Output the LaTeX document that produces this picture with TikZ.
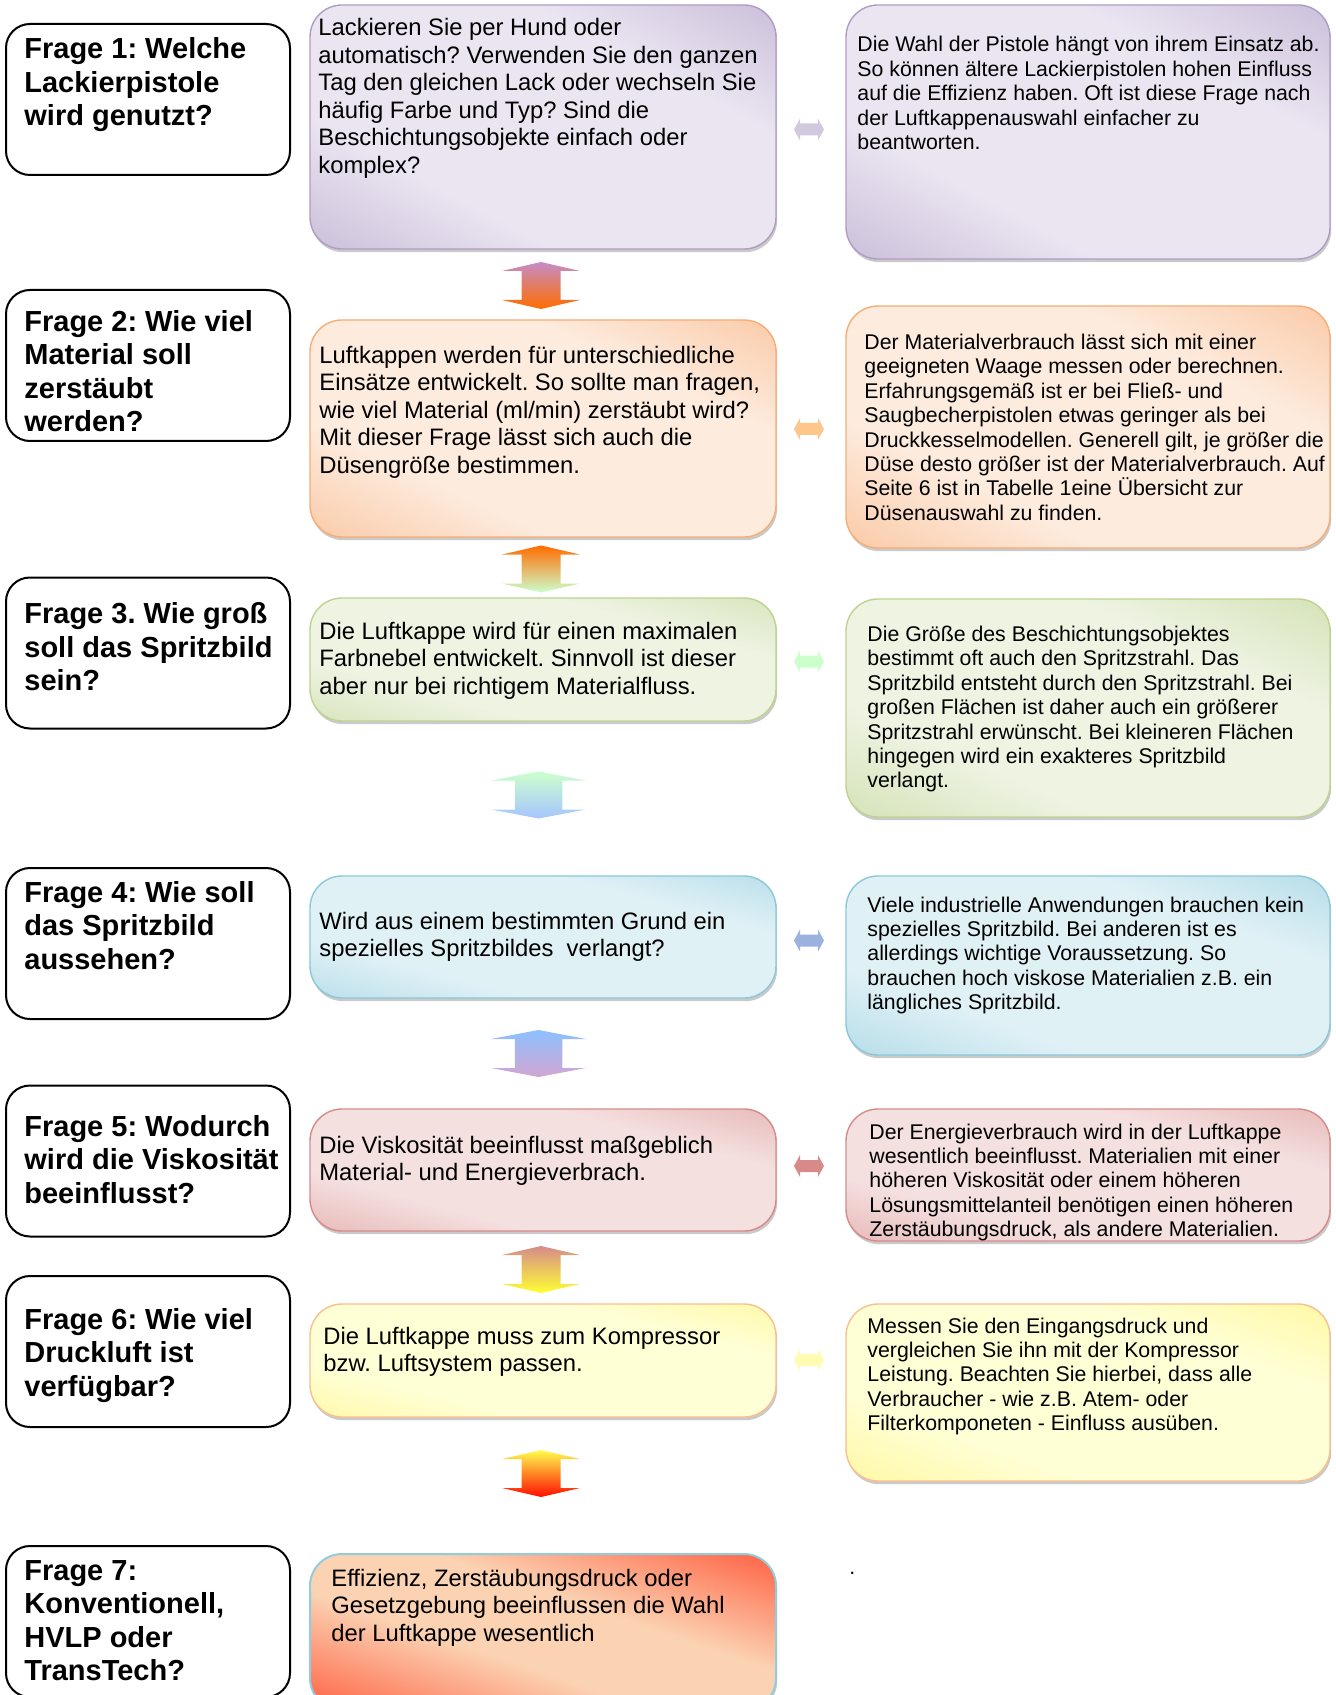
\documentclass[tikz,border=0pt]{standalone}
\usepackage{fontspec}
\setmainfont{Liberation Sans}
\usetikzlibrary{shadows}
\frenchspacing

% Farben der Kaesten
\definecolor{lilaD}{HTML}{AF9DC5}
\definecolor{lilaL}{HTML}{EAE5F1}
\definecolor{orangeD}{HTML}{F8AC76}
\definecolor{orangeL}{HTML}{FDEBDD}
\definecolor{gruenD}{HTML}{BDD38F}
\definecolor{gruenL}{HTML}{EEF3E2}
\definecolor{blauD}{HTML}{8AC8DA}
\definecolor{blauL}{HTML}{E0F1F6}
\definecolor{rotD}{HTML}{D68B8A}
\definecolor{rotL}{HTML}{F4E0DF}
\definecolor{gelbD}{HTML}{FFF170}
\definecolor{gelbL}{HTML}{FFFFD6}
\definecolor{gelbR}{HTML}{F9C08E}
\definecolor{feuerD}{HTML}{FF3A1C}
\definecolor{feuerL}{HTML}{FBD3B3}
\definecolor{feuerR}{HTML}{93CDDD}

\newcommand{\tint}[3]{\pgfdeclarehorizontalshading{#1}{100bp}{color(0bp)=(#2); color(34bp)=(#3); color(66bp)=(#3); color(100bp)=(#2)}}
\tint{lila}{lilaD}{lilaL}
\tint{orange}{orangeD}{orangeL}
\tint{gruen}{gruenD}{gruenL}
\tint{blau}{blauD}{blauL}
\tint{rot}{rotD}{rotL}
\tint{gelb}{gelbD}{gelbL}
\pgfdeclarehorizontalshading{feuer}{100bp}{color(0bp)=(feuerD); color(10bp)=(feuerD); color(42bp)=(feuerL); color(58bp)=(feuerL); color(90bp)=(feuerD); color(100bp)=(feuerD)}

% mehrzeiliger Text, Grundlinie = erste Zeile
\newcommand{\zeilen}[1]{\parbox[t]{330pt}{\raggedright #1}}

\tikzset{
  frage/.style={draw=black, line width=1pt, rounded corners=12pt, fill=white, minimum width=142pt, minimum height=75.5pt},
  kasten/.style 2 args={shade, shading=#1, shading angle=#2, rounded corners=16pt, line width=0.7pt,
    drop shadow={shadow xshift=0.6pt, shadow yshift=-1.6pt, opacity=0.35, fill=black!60}},
  lefttext/.style={anchor=base west, inner sep=0pt, font=\fontsize{14.5}{16.75}\selectfont\bfseries},
  midtext/.style={anchor=base west, inner sep=0pt, font=\fontsize{11.9}{13.75}\selectfont},
  righttext/.style={anchor=base west, inner sep=0pt, font=\fontsize{10.65}{12.2}\selectfont},
  updown/.pic={\path[pic actions] (0,-23.5) -- (#1,-14.5) -- ({#1/2},-14.5) -- ({#1/2},14.5) -- (#1,14.5) -- (0,23.5)
    -- (-#1,14.5) -- ({-#1/2},14.5) -- ({-#1/2},-14.5) -- (-#1,-14.5) -- cycle;},
  leftright/.pic={\path[pic actions] (-15,0) -- (-9,-11) -- (-9,-6) -- (9,-6) -- (9,-11) -- (15,0)
    -- (9,11) -- (9,6) -- (-9,6) -- (-9,11) -- cycle;}
}

\begin{document}
\begin{tikzpicture}[x=0.5pt, y=-0.5pt]
\useasboundingbox (0,0) rectangle (1335,1695);
\clip (0,0) rectangle (1335,1695);

% Fragen links
\node[frage] (f1) at (148,99.5) {};
\node[frage] (f2) at (148,365.5) {};
\node[frage] (f3) at (148,653) {};
\node[frage] (f4) at (148,943.5) {};
\node[frage] (f5) at (148,1161) {};
\node[frage] (f6) at (148,1351.5) {};
\node[frage] (f7) at (148,1621.5) {};

\node[lefttext] (f1t) at (24,59) {\zeilen{Frage 1: Welche\\Lackierpistole\\wird genutzt?}};
\node[lefttext] (f2t) at (24,331.5) {\zeilen{Frage 2: Wie viel\\Material soll\\zerstäubt\\werden?}};
\node[lefttext] (f3t) at (24,623.5) {\zeilen{Frage 3. Wie groß\\soll das Spritzbild\\sein?}};
\node[lefttext] (f4t) at (24,902) {\zeilen{Frage 4: Wie soll\\das Spritzbild\\aussehen?}};
\node[lefttext] (f5t) at (24,1136) {\zeilen{Frage 5: Wodurch\\wird die Viskosität\\beeinflusst?}};
\node[lefttext] (f6t) at (24,1329) {\zeilen{Frage 6: Wie viel\\Druckluft ist\\verfügbar?}};
\node[lefttext] (f7t) at (24,1580) {\zeilen{Frage 7:\\Konventionell,\\HVLP oder\\TransTech?}};

% mittlere Spalte
\node[kasten={lila}{62}, draw=lilaD, minimum width=233pt, minimum height=122pt] (m1) at (543,127) {};
\node[kasten={orange}{65}, draw=orangeD, minimum width=233pt, minimum height=108.5pt] (m2) at (543,428.5) {};
\node[kasten={gruen}{75}, draw=gruenD, minimum width=233pt, minimum height=61.5pt] (m3) at (543,659.5) {};
\node[kasten={blau}{75}, draw=blauD, minimum width=233pt, minimum height=61pt] (m4) at (543,937) {};
\node[kasten={rot}{75}, draw=rotD, minimum width=233pt, minimum height=61pt] (m5) at (543,1170) {};
\node[kasten={gelb}{76}, draw=gelbR, minimum width=233pt, minimum height=56.5pt] (m6) at (543,1360.5) {};
\node[kasten={feuer}{71}, draw=feuerR, line width=1pt, minimum width=233pt, minimum height=78pt] (m7) at (543,1632) {};

\node[midtext] (m1t) at (318,36) {\zeilen{Lackieren Sie per Hund oder\\automatisch? Verwenden Sie den ganzen\\Tag den gleichen Lack oder wechseln Sie\\häufig Farbe und Typ? Sind die\\Beschichtungsobjekte einfach oder\\komplex?}};
\node[midtext] (m2t) at (319,363.5) {\zeilen{Luftkappen werden für unterschiedliche\\Einsätze entwickelt. So sollte man fragen,\\wie viel Material (ml/min) zerstäubt wird?\\Mit dieser Frage lässt sich auch die\\Düsengröße bestimmen.}};
\node[midtext] (m3t) at (319,639) {\zeilen{Die Luftkappe wird für einen maximalen\\Farbnebel entwickelt. Sinnvoll ist dieser\\aber nur bei richtigem Materialfluss.}};
\node[midtext] (m4t) at (319,929) {\zeilen{Wird aus einem bestimmten Grund ein\\spezielles Spritzbildes~~verlangt?}};
\node[midtext] (m5t) at (319,1153) {\zeilen{Die Viskosität beeinflusst maßgeblich\\Material- und Energieverbrach.}};
\node[midtext] (m6t) at (323,1344) {\zeilen{Die Luftkappe muss zum Kompressor\\bzw. Luftsystem passen.}};
\node[midtext] (m7t) at (331,1586) {\zeilen{Effizienz, Zerstäubungsdruck oder\\Gesetzgebung beeinflussen die Wahl\\der Luftkappe wesentlich}};

% rechte Spalte
\node[kasten={lila}{62}, draw=lilaD, minimum width=242pt, minimum height=127pt] (r1) at (1088,132) {};
\node[kasten={orange}{63}, draw=orangeD, minimum width=242pt, minimum height=121pt] (r2) at (1088,427) {};
\node[kasten={gruen}{66}, draw=gruenD, minimum width=242pt, minimum height=109pt] (r3) at (1088,708) {};
\node[kasten={blau}{70}, draw=blauD, minimum width=242pt, minimum height=89.5pt] (r4) at (1088,965.5) {};
\node[kasten={rot}{75}, draw=rotD, minimum width=242pt, minimum height=66pt] (r5) at (1088,1175) {};
\node[kasten={gelb}{70}, draw=gelbR, minimum width=242pt, minimum height=88.5pt] (r6) at (1088,1392.5) {};

\node[righttext] (r1t) at (857,52) {\zeilen{Die Wahl der Pistole hängt von ihrem Einsatz ab.\\So können ältere Lackierpistolen hohen Einfluss\\auf die Effizienz haben. Oft ist diese Frage nach\\der Luftkappenauswahl einfacher zu\\beantworten.}};
\node[righttext] (r2t) at (864,349.5) {\zeilen{Der Materialverbrauch lässt sich mit einer\\geeigneten Waage messen oder berechnen.\\Erfahrungsgemäß ist er bei Fließ- und\\Saugbecherpistolen etwas geringer als bei\\Druckkesselmodellen. Generell gilt, je größer die\\Düse desto größer ist der Materialverbrauch. Auf\\Seite 6 ist in Tabelle 1eine Übersicht zur\\Düsenauswahl zu finden.}};
\node[righttext] (r3t) at (867,641.5) {\zeilen{Die Größe des Beschichtungsobjektes\\bestimmt oft auch den Spritzstrahl. Das\\Spritzbild entsteht durch den Spritzstrahl. Bei\\großen Flächen ist daher auch ein größerer\\Spritzstrahl erwünscht. Bei kleineren Flächen\\hingegen wird ein exakteres Spritzbild\\verlangt.}};
\node[righttext] (r4t) at (867,912) {\zeilen{Viele industrielle Anwendungen brauchen kein\\spezielles Spritzbild. Bei anderen ist es\\allerdings wichtige Voraussetzung. So\\brauchen hoch viskose Materialien z.B. ein\\längliches Spritzbild.}};
\node[righttext] (r5t) at (869,1139) {\zeilen{Der Energieverbrauch wird in der Luftkappe\\wesentlich beeinflusst. Materialien mit einer\\höheren Viskosität oder einem höheren\\Lösungsmittelanteil benötigen einen höheren\\Zerstäubungsdruck, als andere Materialien.}};
\node[righttext] (r6t) at (867,1333) {\zeilen{Messen Sie den Eingangsdruck und\\vergleichen Sie ihn mit der Kompressor\\Leistung. Beachten Sie hierbei, dass alle\\Verbraucher - wie z.B. Atem- oder\\Filterkomponeten - Einfluss ausüben.}};
\node[righttext] (punkt) at (849,1574) {.};

% Pfeile zwischen den Kaesten
\pic[top color=violet!45, bottom color=orange!85!red] (a1) at (541,285.5) {updown=39};
\pic[top color=orange!85!red, bottom color=green!20] (a2) at (541,569) {updown=39};
\pic[top color=green!20, bottom color=cyan!35!blue!35] (a3) at (538.5,795) {updown=47.5};
\pic[top color=cyan!45!blue!45, bottom color=violet!35] (a4) at (538.5,1053.5) {updown=47.5};
\pic[top color=rotD, bottom color=yellow!80] (a5) at (541,1269.5) {updown=39};
\pic[top color=yellow!70, bottom color=red!90!orange] (a6) at (541,1473.5) {updown=39};

\pic[fill=lilaD!55] (h1) at (809,129.5) {leftright};
\pic[fill=orange!45] (h2) at (809,429) {leftright};
\pic[fill=green!20] (h3) at (809,661.5) {leftright};
\pic[fill=cyan!45!blue!40] (h4) at (809,940.5) {leftright};
\pic[fill=rotD] (h5) at (809,1166) {leftright};
\pic[fill=yellow!30] (h6) at (809,1360) {leftright};
\end{tikzpicture}
\end{document}
